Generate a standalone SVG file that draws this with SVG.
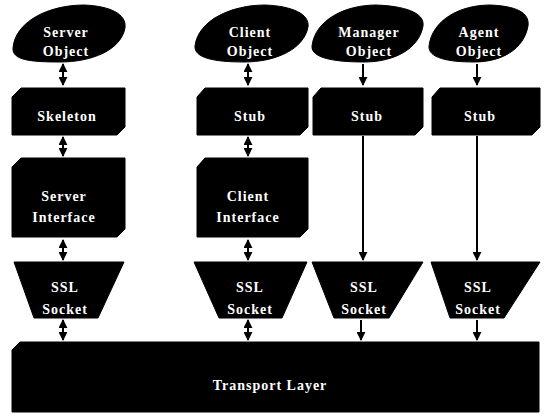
<svg xmlns="http://www.w3.org/2000/svg" width="544" height="416" viewBox="0 0 544 416">
<style>
.n{fill:#000;stroke:#000;stroke-width:1}
.t{fill:#fff;font-family:"Liberation Serif",serif;font-weight:bold;font-size:14px;text-anchor:middle;letter-spacing:1px}
.c{stroke:#000;stroke-width:2;fill:none}
</style>
<defs>
<marker id="ah" viewBox="0 0 10 10" refX="9" refY="5" markerWidth="4.5" markerHeight="4.5" orient="auto-start-reverse"><path d="M0,0 L10,5 L0,10 z" fill="#000"/></marker>
</defs>
<rect width="544" height="416" fill="#fff"/>
<g id="server-object"><path class="n" d="M13,48 C15,22 48,5 84,5 C110,6 127,14 125,28 C121,50 92,62 60,62 C30,62 12,60 13,48 z"/><text class="t" x="66" y="37">Server</text><text class="t" x="66" y="56">Object</text></g>
<g id="client-object"><path class="n" d="M195,46 C198,20 232,5 265,5 C292,6 310,14 308,27 C304,49 276,62 244,62 C214,62 194,58 195,46 z"/><text class="t" x="250" y="37">Client</text><text class="t" x="250" y="56">Object</text></g>
<g id="manager-object"><path class="n" d="M312,46 C315,20 345,5 376,5 C403,6 425,12 423,26 C419,49 394,62 364,62 C334,62 311,58 312,46 z"/><text class="t" x="369" y="37">Manager</text><text class="t" x="369" y="56">Object</text></g>
<g id="agent-object"><path class="n" d="M429,46 C432,20 460,5 490,5 C515,6 530,12 528,26 C524,49 502,62 474,62 C448,62 428,58 429,46 z"/><text class="t" x="479" y="37">Agent</text><text class="t" x="479" y="56">Object</text></g>
<g id="skeleton"><path class="n" d="M21,88 H125 V127 L117,135 H12 V97 z"/><text class="t" x="67" y="121">Skeleton</text></g>
<g id="client-stub"><path class="n" d="M205,88 H308 V127 L300,135 H197 V97 z"/><text class="t" x="250" y="121">Stub</text></g>
<g id="manager-stub"><path class="n" d="M321,88 H423 V127 L415,135 H313 V97 z"/><text class="t" x="367" y="121">Stub</text></g>
<g id="agent-stub"><path class="n" d="M440,88 H540 V127 L532,135 H432 V97 z"/><text class="t" x="480" y="121">Stub</text></g>
<g id="server-interface"><path class="n" d="M21,158 H125 V229 L117,237 H12 V167 z"/><text class="t" x="64" y="201">Server</text><text class="t" x="64" y="222">Interface</text></g>
<g id="client-interface"><path class="n" d="M205,158 H308 V229 L300,237 H197 V167 z"/><text class="t" x="248" y="201">Client</text><text class="t" x="248" y="222">Interface</text></g>
<g id="server-socket"><path class="n" d="M14,262 H124 L98,318 H34 z"/><text class="t" x="65" y="292">SSL</text><text class="t" x="65" y="314">Socket</text></g>
<g id="client-socket"><path class="n" d="M194,262 H307 L282,318 H219 z"/><text class="t" x="250" y="292">SSL</text><text class="t" x="250" y="314">Socket</text></g>
<g id="manager-socket"><path class="n" d="M312,262 H423 L389,318 H334 z"/><text class="t" x="364" y="292">SSL</text><text class="t" x="364" y="314">Socket</text></g>
<g id="agent-socket"><path class="n" d="M431,262 H540 L504,318 H450 z"/><text class="t" x="478" y="292">SSL</text><text class="t" x="478" y="314">Socket</text></g>
<g id="transport-layer"><path class="n" d="M20,342 H539 V412 H12 V350 z"/><text class="t" x="270" y="390">Transport Layer</text></g>
<g id="connectors">
<path class="c" d="M63,64 V85" marker-start="url(#ah)" marker-end="url(#ah)"/>
<path class="c" d="M248,64 V85" marker-start="url(#ah)" marker-end="url(#ah)"/>
<path class="c" d="M363,64 V85" marker-end="url(#ah)"/>
<path class="c" d="M477,64 V85" marker-end="url(#ah)"/>
<path class="c" d="M63,137 V156" marker-start="url(#ah)" marker-end="url(#ah)"/>
<path class="c" d="M248,137 V156" marker-start="url(#ah)" marker-end="url(#ah)"/>
<path class="c" d="M63,240 V260" marker-start="url(#ah)" marker-end="url(#ah)"/>
<path class="c" d="M248,240 V260" marker-start="url(#ah)" marker-end="url(#ah)"/>
<path class="c" d="M363,136 V260" marker-end="url(#ah)"/>
<path class="c" d="M477,136 V260" marker-end="url(#ah)"/>
<path class="c" d="M63,320 V340" marker-start="url(#ah)" marker-end="url(#ah)"/>
<path class="c" d="M248,320 V340" marker-start="url(#ah)" marker-end="url(#ah)"/>
<path class="c" d="M361,320 V340" marker-end="url(#ah)"/>
<path class="c" d="M477,320 V340" marker-end="url(#ah)"/>
</g>
</svg>
